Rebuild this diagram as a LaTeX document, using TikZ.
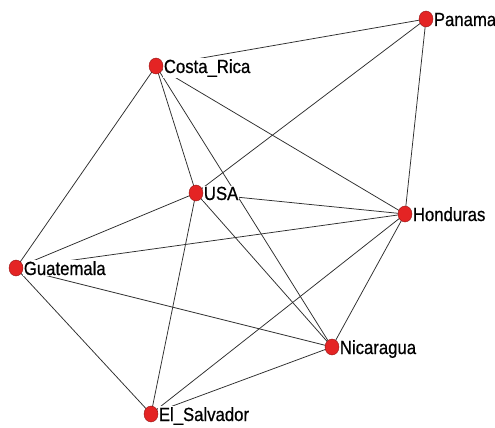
\documentclass[tikz,border=0pt]{standalone}
\usepackage{fontspec}
\setmainfont{Liberation Sans}[FakeStretch=0.88,FakeBold=0.6]
\usetikzlibrary{shapes.geometric}
\pgfdeclarelayer{bg}
\pgfdeclarelayer{lab}
\pgfsetlayers{bg,lab,main}
\definecolor{nodered}{RGB}{228,36,36}
\definecolor{edgegray}{RGB}{45,45,45}
\begin{document}
\begin{tikzpicture}[x=1pt,y=-1pt,
  vert/.style={ellipse,fill=nodered,draw=nodered!65!black,line width=0.4pt,minimum width=14pt,minimum height=16pt,inner sep=0pt},
  lbl/.style={anchor=base west,fill=white,inner sep=1pt,font=\fontsize{19}{21}\selectfont},
  edge/.style={draw=edgegray,line width=0.75pt}]
\useasboundingbox (0,0) rectangle (495,428);
\node[vert] (PA) at (426,19) {};
\node[vert] (CR) at (156,66) {};
\node[vert] (US) at (196,193) {};
\node[vert] (HO) at (405,214) {};
\node[vert] (GU) at (16,268) {};
\node[vert] (NI) at (332,347) {};
\node[vert] (ES) at (151,414) {};
\begin{pgfonlayer}{lab}
\node[lbl] (lPA) at ([xshift=-0.5pt,yshift=-7pt]PA.east) {Panama};
\node[lbl] (lCR) at ([xshift=-0.5pt,yshift=-7pt]CR.east) {Costa\_Rica};
\node[lbl] (lUS) at ([xshift=-0.5pt,yshift=-7pt]US.east) {USA};
\node[lbl] (lHO) at ([xshift=-0.5pt,yshift=-7pt]HO.east) {Honduras};
\node[lbl] (lGU) at ([xshift=-0.5pt,yshift=-7pt]GU.east) {Guatemala};
\node[lbl] (lNI) at ([xshift=-0.5pt,yshift=-7pt]NI.east) {Nicaragua};
\node[lbl] (lES) at ([xshift=-0.5pt,yshift=-7pt]ES.east) {El\_Salvador};
\end{pgfonlayer}
\begin{pgfonlayer}{bg}
\fill[white] (0,0) rectangle (495,428);
\draw[edge] (PA.center) -- (CR.center);
\draw[edge] (PA.center) -- (US.center);
\draw[edge] (PA.center) -- (HO.center);
\draw[edge] (CR.center) -- (US.center);
\draw[edge] (CR.center) -- (HO.center);
\draw[edge] (CR.center) -- (NI.center);
\draw[edge] (CR.center) -- (GU.center);
\draw[edge] (US.center) -- (HO.center);
\draw[edge] (US.center) -- (NI.center);
\draw[edge] (US.center) -- (GU.center);
\draw[edge] (US.center) -- (ES.center);
\draw[edge] (HO.center) -- (GU.center);
\draw[edge] (HO.center) -- (NI.center);
\draw[edge] (HO.center) -- (ES.center);
\draw[edge] (GU.center) -- (NI.center);
\draw[edge] (GU.center) -- (ES.center);
\draw[edge] (NI.center) -- (ES.center);
\end{pgfonlayer}
\end{tikzpicture}
\end{document}
